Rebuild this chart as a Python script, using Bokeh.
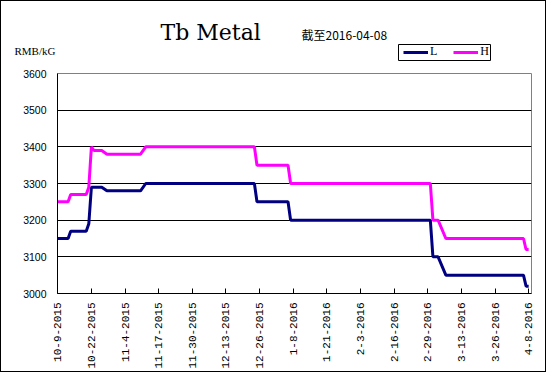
import math
import pandas as pd
from bokeh.plotting import figure
from bokeh.layouts import column
from bokeh.models import Range1d, FixedTicker, Label, Legend, LegendItem, BoxAnnotation
from bokeh.embed import file_html
from bokeh.resources import INLINE

start_date = "2015-10-09"

l_dates = ["2015-10-09", "2015-10-13", "2015-10-14", "2015-10-20", "2015-10-21",
           "2015-10-22", "2015-10-26", "2015-10-28", "2015-11-10", "2015-11-12",
           "2015-12-24", "2015-12-25", "2016-01-06", "2016-01-07", "2016-03-01",
           "2016-03-02", "2016-03-04", "2016-03-07", "2016-04-06", "2016-04-07",
           "2016-04-08"]
l_values = [3150, 3150, 3170, 3170, 3190,
            3290, 3290, 3280, 3280, 3300,
            3300, 3250, 3250, 3200, 3200,
            3100, 3100, 3050, 3050, 3020,
            3020]

h_dates = ["2015-10-09", "2015-10-13", "2015-10-14", "2015-10-20", "2015-10-21",
           "2015-10-22", "2015-10-23", "2015-10-26", "2015-10-28", "2015-11-10",
           "2015-11-12", "2015-12-24", "2015-12-25", "2016-01-06", "2016-01-07",
           "2016-03-01", "2016-03-02", "2016-03-04", "2016-03-07", "2016-04-06",
           "2016-04-07", "2016-04-08"]
h_values = [3250, 3250, 3270, 3270, 3290,
            3400, 3390, 3390, 3380, 3380,
            3400, 3400, 3350, 3350, 3300,
            3300, 3200, 3200, 3150, 3150,
            3120, 3120]

series_names = ["L", "H"]
series_colors = ["#000080", "#FF00FF"]

tick_labels = ["10-9-2015", "10-22-2015", "11-4-2015", "11-17-2015", "11-30-2015",
               "12-13-2015", "12-26-2015", "1-8-2016", "1-21-2016", "2-3-2016",
               "2-16-2016", "2-29-2016", "3-13-2016", "3-26-2016", "4-8-2016"]
y_ticks = [3000, 3100, 3200, 3300, 3400, 3500, 3600]
grid_ticks = [3100, 3200, 3300, 3400, 3500]

title_text = "Tb Metal"
subtitle_text = "截至2016-04-08"
unit_text = "RMB/kG"

t0 = pd.Timestamp(start_date)
l_x = [(pd.Timestamp(d) - t0).days for d in l_dates]
h_x = [(pd.Timestamp(d) - t0).days for d in h_dates]
tick_x = [(pd.to_datetime(t, format="%m-%d-%Y") - t0).days for t in tick_labels]

# ---------- header (title, subtitle, unit, legend) ----------
head = figure(width=544, height=64, x_range=Range1d(-0.1, 183.1), y_range=Range1d(3000, 3600),
              output_backend="svg", toolbar_location=None,
              x_axis_location=None, y_axis_location=None,
              min_border=0, min_border_left=0, min_border_right=0,
              min_border_top=0, min_border_bottom=0)
head.xgrid.visible = False
head.ygrid.visible = False
head.outline_line_color = None
head.background_fill_color = "white"
head.border_fill_color = "white"

head.add_layout(Label(x=103, y=33, x_units="screen", y_units="screen", text=title_text,
                      text_font="DejaVu Serif", text_font_size="22px", text_color="black",
                      text_baseline="alphabetic"))
head.add_layout(Label(x=244, y=31, x_units="screen", y_units="screen", text=subtitle_text,
                      text_font="Noto Sans CJK SC", text_font_size="12px", text_color="black",
                      text_baseline="alphabetic"))
head.add_layout(Label(x=-2, y=15, x_units="screen", y_units="screen", text=unit_text,
                      text_font="Liberation Serif", text_font_size="11px", text_color="black",
                      text_baseline="alphabetic"), "left")

# legend frame
head.add_layout(BoxAnnotation(left=341, right=433, bottom=5, top=21,
                              left_units="screen", right_units="screen",
                              bottom_units="screen", top_units="screen",
                              fill_color=None, fill_alpha=0,
                              line_color="black", line_width=1, line_alpha=1))

# legend swatches: the same two series, hidden in the header so only the legend shows
leg_l = head.line(x=l_x, y=l_values, line_color=series_colors[0], line_width=3, visible=False)
leg_h = head.line(x=h_x, y=h_values, line_color=series_colors[1], line_width=3, visible=False)
legend = Legend(items=[LegendItem(label=series_names[0], renderers=[leg_l]),
                       LegendItem(label=series_names[1], renderers=[leg_h])],
                location=(343, 3), orientation="horizontal",
                glyph_width=25, glyph_height=10, label_height=10, label_width=0,
                label_standoff=2, spacing=16, padding=3, margin=0,
                label_text_font="Liberation Serif", label_text_font_size="12px",
                label_text_color="black",
                border_line_alpha=0,
                background_fill_alpha=0,
                inactive_fill_alpha=0, click_policy="none")
head.add_layout(legend)

# ---------- main chart ----------
p = figure(width=544, height=306, x_range=Range1d(-0.1, 183.1), y_range=Range1d(3000, 3600),
           output_backend="svg", toolbar_location=None,
           min_border_left=56, min_border_right=14, min_border_top=8, min_border_bottom=77)
p.background_fill_color = "white"
p.border_fill_color = "white"
p.outline_line_color = "#808080"
p.outline_line_width = 1

p.xgrid.visible = False
p.ygrid.ticker = FixedTicker(ticks=grid_ticks)
p.ygrid.grid_line_color = "black"
p.ygrid.grid_line_width = 1

xa = p.xaxis[0]
xa.ticker = FixedTicker(ticks=tick_x)
xa.major_label_overrides = {x: lab for x, lab in zip(tick_x, tick_labels)}
xa.major_tick_in = 5
xa.major_tick_out = 0
xa.minor_tick_in = 0
xa.minor_tick_out = 0
xa.major_label_orientation = math.pi / 2
xa.major_label_text_font = "Liberation Mono"
xa.major_label_text_font_size = "11px"
xa.major_label_text_color = "black"
xa.major_label_standoff = 9
xa.axis_line_color = "black"
xa.major_tick_line_color = "black"

ya = p.yaxis[0]
ya.ticker = FixedTicker(ticks=y_ticks)
ya.major_tick_in = 0
ya.major_tick_out = 0
ya.minor_tick_in = 0
ya.minor_tick_out = 0
ya.major_label_text_font = "Liberation Sans"
ya.major_label_text_font_size = "10.5px"
ya.major_label_text_color = "black"
ya.major_label_standoff = 11
ya.axis_line_color = "black"

p.line(x=l_x, y=l_values, line_color=series_colors[0], line_width=3)
p.line(x=h_x, y=h_values, line_color=series_colors[1], line_width=3)

layout = column(head, p, spacing=0)
layout.styles = {"border": "1px solid black", "gap": "0px"}

open("out.html", "w").write(file_html(layout, INLINE))
